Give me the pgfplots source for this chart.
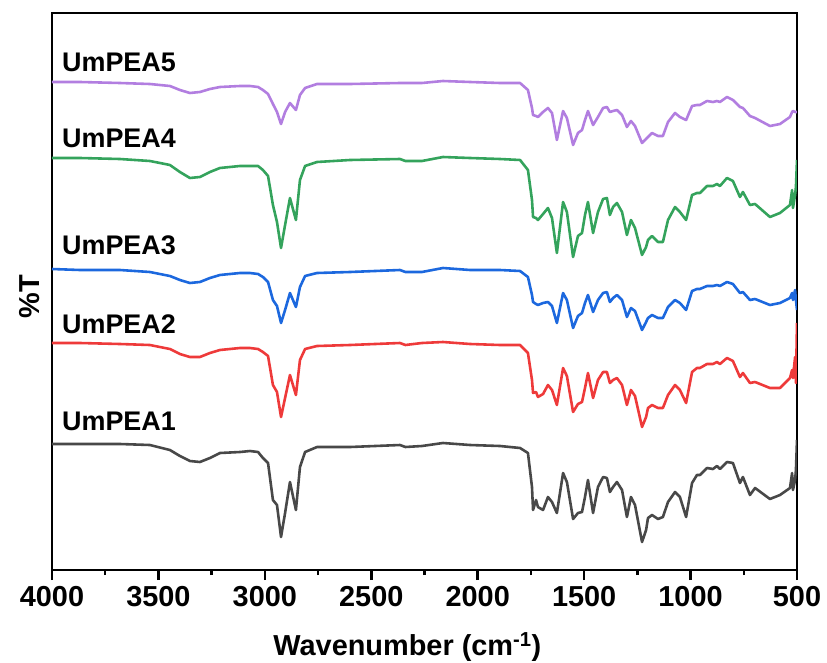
\documentclass[border=0pt]{standalone}
\usepackage{pgfplots}
\pgfplotsset{compat=1.18}
\usepackage{pgfplotstable}
\usepackage{fontspec}
\setmainfont{Liberation Sans}
\definecolor{cgray}{RGB}{72,72,72}
\definecolor{cred}{RGB}{238,58,58}
\definecolor{cblue}{RGB}{28,104,222}
\definecolor{cgreen}{RGB}{52,163,92}
\definecolor{cpurple}{RGB}{178,126,224}
\pgfplotstableread{
w g r b gr p
4000 444 343 269 158 82
3868 444 343 270 158 82
3681 444 344 270 159 83
3540 445 345 272 161 84
3446 450 349 276 165 86
3399 456 354 280 172 90
3352 461 357 283 178 93
3305 462 357 282 177 92
3258 458 353 278 172 89
3211 453 350 275 168 87
3117 452 348 273 166 86
3070 451 348 273 166 86
3032 452 349 274 166 87
3009 458 352 277 170 90
2985 463 356 282 176 94
2962 500 385 300 205 104
2943 505 392 306 222 112
2924 537 417 323 248 124
2905 513 398 310 225 112
2882 482 375 293 198 103
2854 510 395 307 220 110
2835 467 360 287 180 95
2811 452 349 276 166 88
2755 447 346 273 162 84
2600 447 345 272 160 84
2365 445 343 270 159 83
2340 447 345 272 161 83
2262 446 343 272 161 83
2163 443 342 268 157 81
2036 445 344 270 158 82
1895 446 345 270 159 83
1801 448 345 271 160 83
1764 453 353 277 170 90
1745 487 380 295 200 108
1740 510 393 302 217 115
1726 500 392 304 218 116
1717 507 397 305 220 117
1693 510 394 303 214 112
1670 497 385 302 208 108
1651 502 390 306 218 113
1628 513 405 323 253 140
1599 473 368 293 202 111
1581 482 376 300 212 118
1552 519 412 328 257 145
1529 513 404 316 236 133
1510 512 402 313 233 130
1496 497 388 303 215 120
1482 480 373 295 202 111
1458 513 398 312 233 125
1435 487 380 300 212 117
1411 477 372 293 199 108
1393 478 372 292 198 107
1379 492 383 302 215 112
1364 487 380 298 207 111
1346 482 378 295 203 110
1322 490 385 300 212 115
1299 517 405 317 235 127
1280 497 390 308 220 121
1261 505 396 311 228 126
1228 542 427 330 255 143
1209 530 417 322 247 139
1200 518 408 318 240 137
1181 515 405 315 236 133
1153 519 408 318 242 136
1130 517 408 318 242 136
1106 502 395 307 220 122
1073 492 385 300 207 113
1050 497 390 303 212 117
1021 517 403 310 220 120
993 483 372 291 195 106
970 475 368 289 193 105
956 475 368 289 193 105
923 468 364 286 186 101
895 469 364 286 186 102
876 466 362 285 184 101
862 469 364 286 186 102
829 462 358 282 178 97
801 463 361 284 181 100
768 483 377 293 197 107
754 477 373 292 192 108
721 495 383 300 205 116
697 488 382 299 204 118
627 499 388 305 217 126
580 495 388 303 213 124
533 488 378 298 205 117
523 473 370 293 190 112
519 490 378 300 208 111
509 480 357 290 195 112
505 470 383 300 187 112
500 440 323 310 160 112
}\ftir
\begin{document}
\begin{tikzpicture}
\begin{axis}[
  width=745bp, height=557bp, scale only axis,
  x dir=reverse, xmin=500, xmax=4000,
  y dir=reverse, ymin=13, ymax=570,
  xtick={500,1000,...,4000},
  minor x tick num=1,
  ytick=\empty,
  xtick pos=left,
  tick align=outside,
  major tick length=10bp, minor tick length=5bp,
  axis line style={line width=2.5pt},
  every tick/.style={black, line width=2.5pt},
  /pgf/number format/assume math mode=true,
  /pgf/number format/set thousands separator={},
  xticklabel style={font=\fontsize{29}{30}\selectfont\bfseries, yshift=-3bp},
  xlabel={Wavenumber (cm\textsuperscript{-1})},
  xlabel style={at={(axis description cs:0.477,-0.1526)}, anchor=base, font=\fontsize{29}{30}\selectfont\bfseries},
  ylabel={\%T},
  ylabel style={at={(axis description cs:-0.0161,0.491)}, anchor=base, font=\fontsize{29}{30}\selectfont\bfseries},
  every axis plot/.append style={line width=2.6pt, line join=round},
]
\addplot[cgray] table[x=w,y=g]{\ftir};
\addplot[cred] table[x=w,y=r]{\ftir};
\addplot[cblue] table[x=w,y=b]{\ftir};
\addplot[cgreen] table[x=w,y=gr]{\ftir};
\addplot[cpurple] table[x=w,y=p]{\ftir};
\begin{scope}[every node/.style={anchor=base west, inner sep=0pt, font=\fontsize{27}{28}\selectfont\bfseries}]
\node at (axis cs:3953,71) {UmPEA5};
\node at (axis cs:3953,147) {UmPEA4};
\node at (axis cs:3953,254) {UmPEA3};
\node at (axis cs:3953,333) {UmPEA2};
\node at (axis cs:3953,430) {UmPEA1};
\end{scope}
\coordinate (sw) at (rel axis cs:0,0);
\end{axis}
\pgfresetboundingbox
\path[use as bounding box] (sw) ++(-52bp,-93bp) rectangle ++(827bp,663bp);
\end{tikzpicture}
\end{document}
